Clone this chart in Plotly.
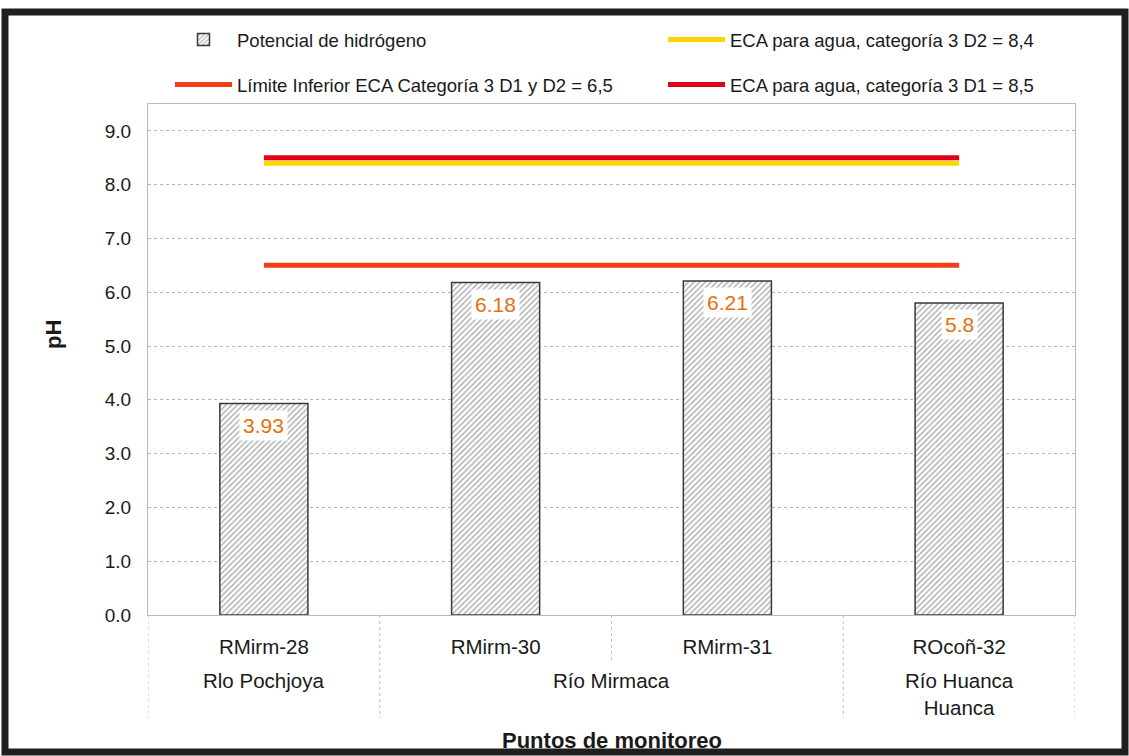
import plotly.graph_objects as go

# ---- data ----
puntos = ["RMirm-28", "RMirm-30", "RMirm-31", "ROcoñ-32"]
ph_values = [3.93, 6.18, 6.21, 5.8]
rio_labels = ["Rlo Pochjoya", "Río Mirmaca", "Río Huanca<br>Huanca"]
rio_centers = [0, 1.5, 3]          # category index positions of river group labels
eca_d2_max = 8.4
eca_d1_max = 8.5
eca_min = 6.5
y_ticks = [0, 1, 2, 3, 4, 5, 6, 7, 8, 9]

W, H = 1129, 756
L, R, T, B = 148, 54, 104, 141
pw, ph_ = W - L - R, H - T - B

def px_x(x):
    return (x - L) / pw

def px_y(y):
    return (H - B - y) / ph_

FONT = "Liberation Sans, Arial, sans-serif"
TXT = "#1a1a1a"

fig = go.Figure()

fig.add_trace(go.Bar(
    x=puntos, y=ph_values, name="Potencial de hidrógeno", width=0.38,
    marker=dict(color="white", line=dict(color="#3a3a3a", width=1.5),
                pattern=dict(shape="/", fgcolor="#555555", bgcolor="white", size=4, solidity=0.35)),
    legend="legend",
))
fig.add_trace(go.Scatter(
    x=puntos, y=[eca_d2_max] * len(puntos), mode="lines",
    name="ECA para agua, categoría 3 D2 = 8,4",
    line=dict(color="#FFD500", width=5), legend="legend2",
))
fig.add_trace(go.Scatter(
    x=puntos, y=[eca_min] * len(puntos), mode="lines",
    name="Límite Inferior ECA Categoría 3 D1 y D2 = 6,5",
    line=dict(color="#F0401A", width=5), legend="legend3",
))
fig.add_trace(go.Scatter(
    x=puntos, y=[eca_d1_max] * len(puntos), mode="lines",
    name="ECA para agua, categoría 3 D1 = 8,5",
    line=dict(color="#E0001B", width=5), legend="legend4",
))

annotations = []
for p, v in zip(puntos, ph_values):
    annotations.append(dict(
        x=p, y=v, xref="x", yref="y", text=f"{v:g}", showarrow=False,
        yanchor="top", yshift=-6, bgcolor="white", borderpad=3,
        font=dict(family=FONT, size=21, color="#E4700E"),
    ))
for lab, c in zip(rio_labels, rio_centers):
    annotations.append(dict(
        x=c, y=px_y(667), xref="x", yref="paper", text=lab, showarrow=False,
        yanchor="top", font=dict(family=FONT, size=20.5, color=TXT),
    ))
annotations.append(dict(
    x=0.5, y=px_y(740), xref="paper", yref="paper", text="<b>Puntos de monitoreo</b>",
    showarrow=False, yanchor="middle", font=dict(family=FONT, size=22, color=TXT),
))
annotations.append(dict(
    x=px_x(53), y=px_y(335), xref="paper", yref="paper", text="<b>pH</b>",
    showarrow=False, textangle=-90, xanchor="center", yanchor="middle",
    font=dict(family=FONT, size=22, color=TXT),
))

shapes = []
for xd, yb in [(-0.5, 718), (0.5, 718), (1.5, 660), (2.5, 718), (3.5, 718)]:
    shapes.append(dict(type="line", xref="x", yref="paper", x0=xd, x1=xd, y0=0, y1=px_y(yb),
                       line=dict(color="#C0C0CC", width=1, dash="dot")))
# outer frame
shapes.append(dict(type="rect", xref="paper", yref="paper",
                   x0=px_x(5), x1=px_x(1125), y0=px_y(752), y1=px_y(12),
                   line=dict(color="#1f1f1f", width=7), layer="below"))

def leg(xpx, ypx):
    return dict(orientation="h", x=px_x(xpx), y=px_y(ypx), xanchor="left", yanchor="middle",
                itemwidth=57, font=dict(family=FONT, size=18.5, color=TXT),
                bgcolor="rgba(0,0,0,0)")

fig.update_layout(
    width=W, height=H,
    margin=dict(l=L, r=R, t=T, b=B),
    paper_bgcolor="white", plot_bgcolor="white",
    font=dict(family=FONT, size=17, color=TXT),
    showlegend=True,
    legend=leg(170, 40),
    legend2=leg(663, 40),
    legend3=leg(170, 85),
    legend4=leg(663, 85),
    annotations=annotations,
    shapes=shapes,
    bargap=0.5,
)
fig.update_xaxes(type="category", range=[-0.5, 3.5], showgrid=False, ticks="",
                 showline=True, mirror=True, linecolor="#B8B8C8", linewidth=1,
                 tickfont=dict(family=FONT, size=20.5, color=TXT), ticklabelstandoff=13)
fig.update_yaxes(range=[0, 9.5], tickvals=y_ticks, tickformat=".1f", showgrid=True,
                 gridcolor="#B4B4B4", griddash="dot", gridwidth=1, zeroline=False,
                 showline=True, mirror=True, linecolor="#B8B8C8", linewidth=1,
                 ticks="", tickfont=dict(family=FONT, size=19, color=TXT), ticklabelstandoff=12)

fig.write_html("out.html", config={"displayModeBar": False},
               post_script="document.body.style.margin='0';document.body.style.overflow='hidden';")
